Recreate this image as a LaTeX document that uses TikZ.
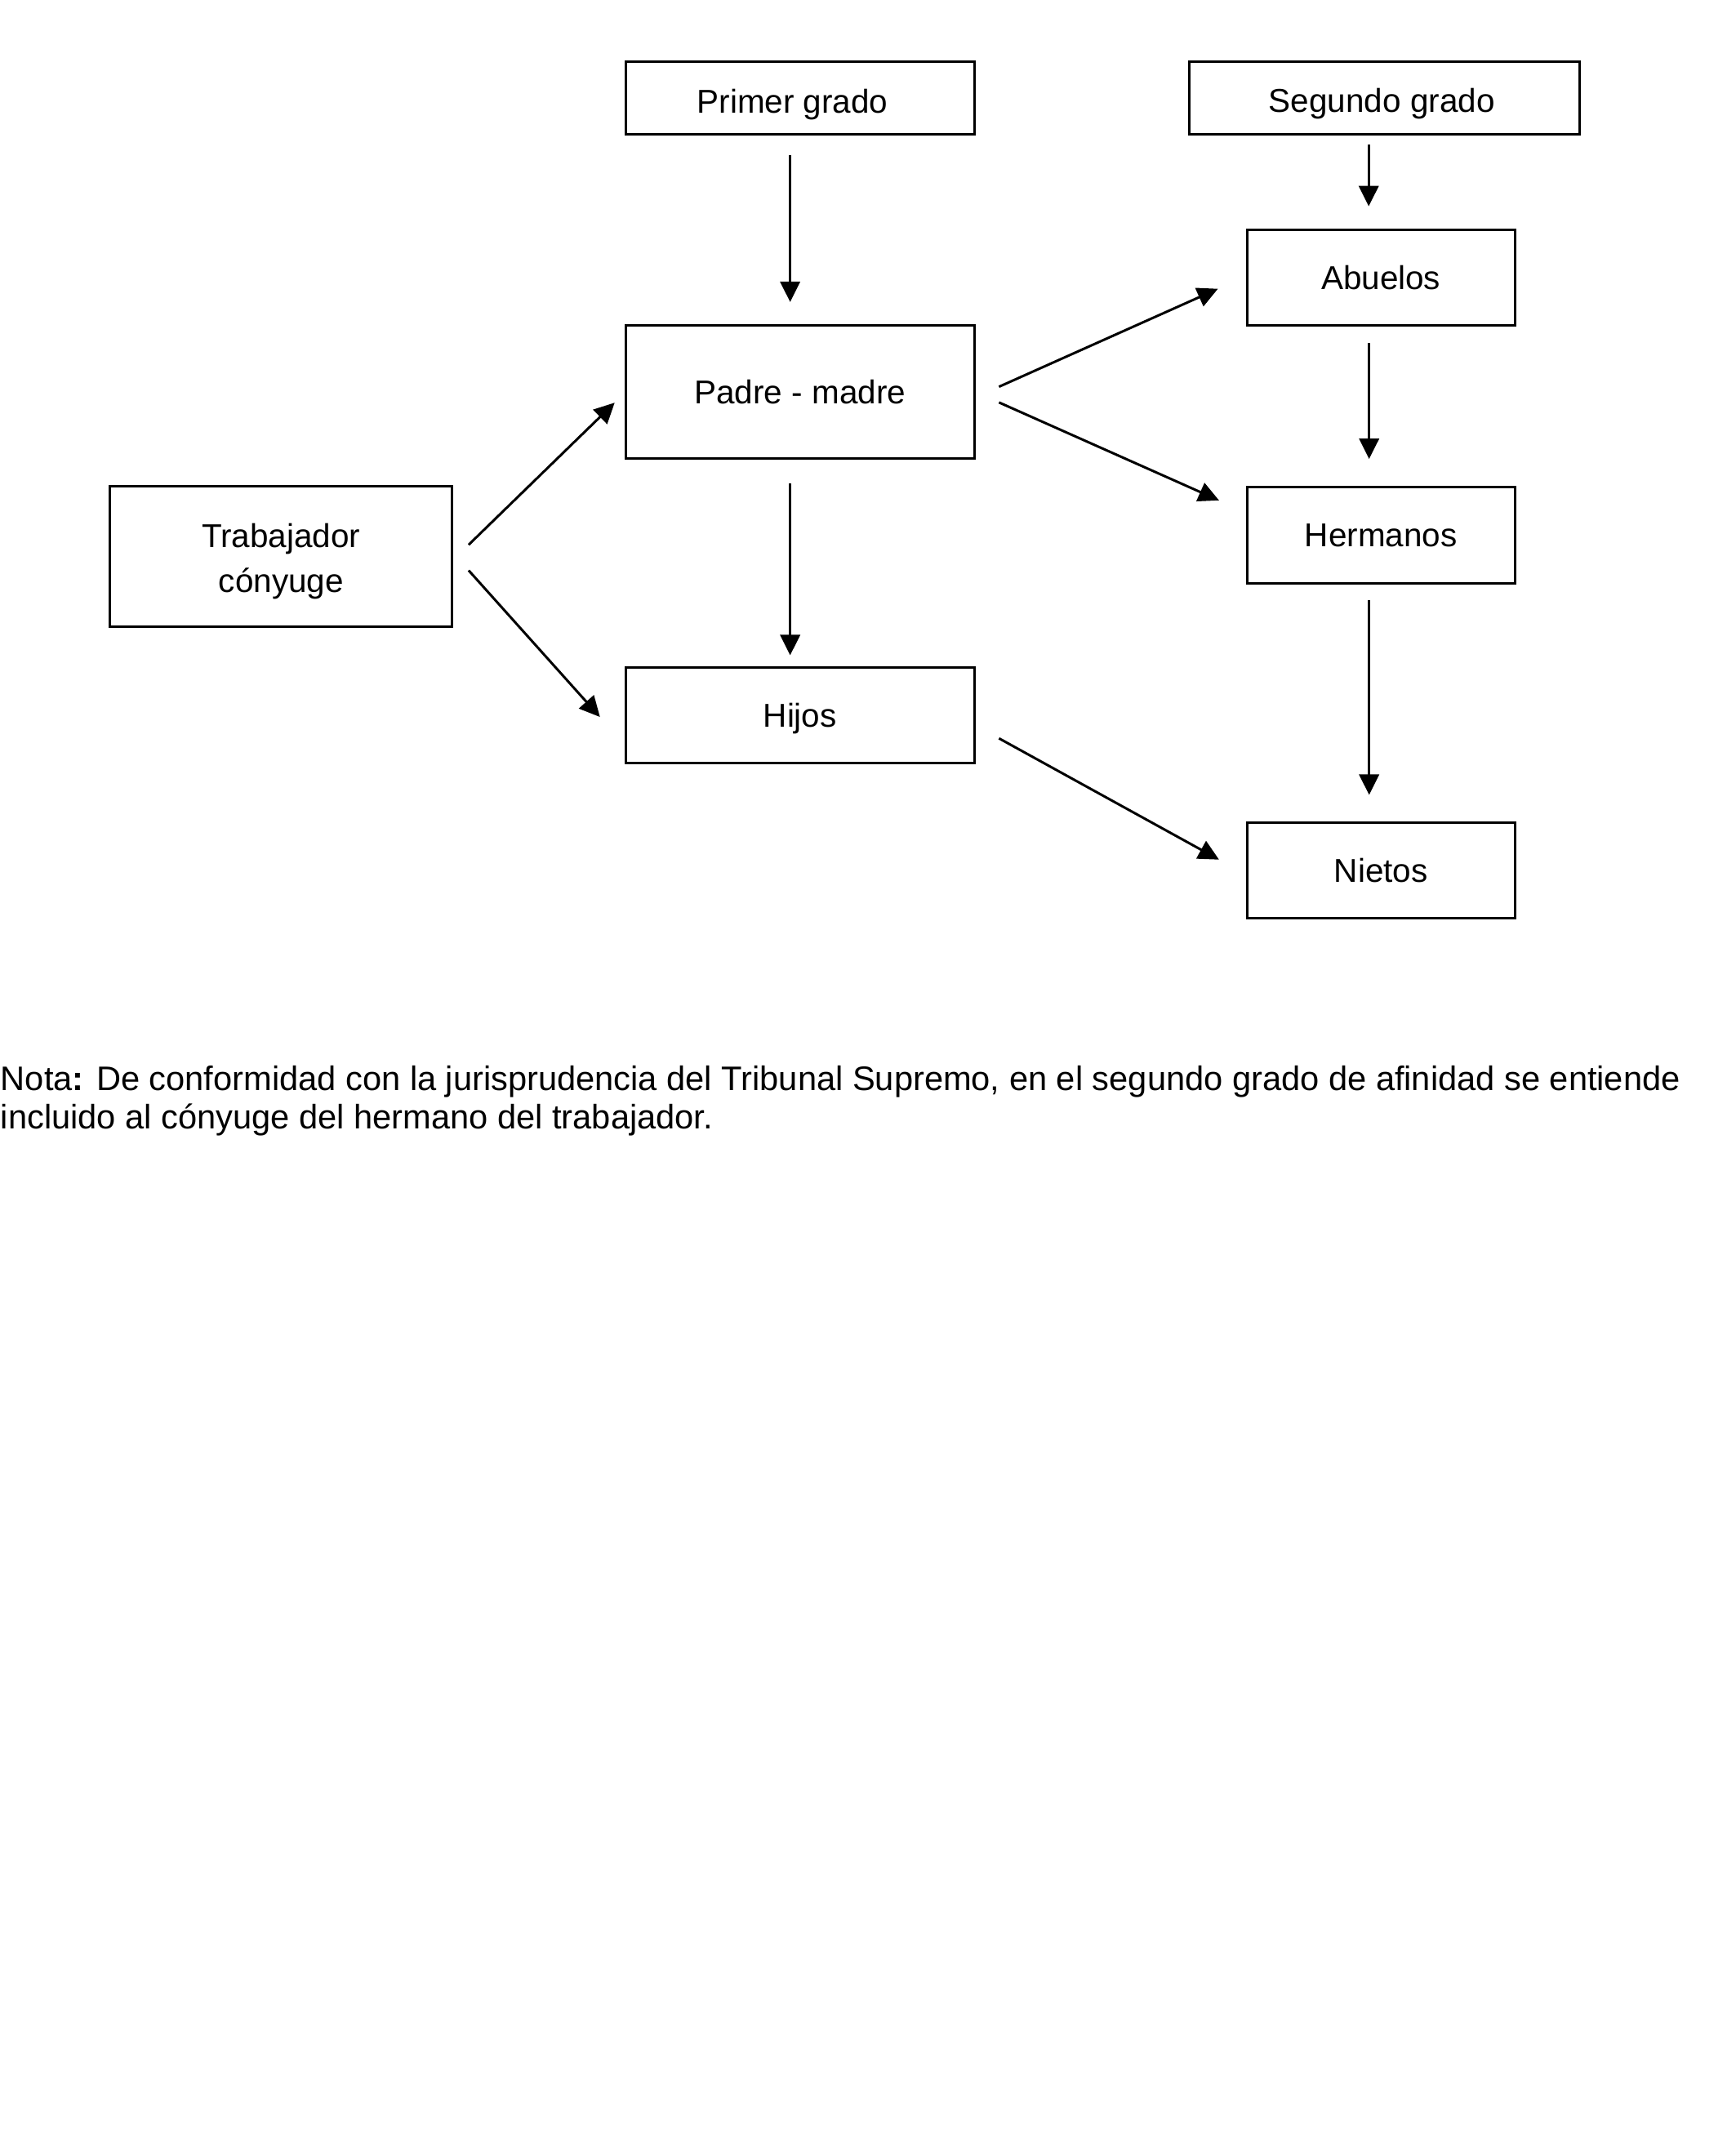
\documentclass[tikz,border=0pt]{standalone}
\usepackage{fontspec}
\setmainfont{Liberation Sans}
\usetikzlibrary{arrows.meta}
\begin{document}
\begin{tikzpicture}[x=0.4pt,y=-0.4pt,
  box/.style={draw=black,line width=0.72pt,inner sep=0pt,font=\fontsize{9.7pt}{11.6pt}\selectfont,text depth=0pt,text height=7.0pt},
  wide/.style={minimum width=102.36pt},
  small/.style={minimum width=78.68pt,minimum height=28.16pt},
  conn/.style={line width=0.72pt,-{Triangle[length=6pt,width=5.8pt]}},
  notetext/.style={inner sep=0pt,anchor=base west,font=\fontsize{9.98pt}{11.3pt}\selectfont}]
\useasboundingbox (0,0) rectangle (1274,1568);
% boxes
\node[box,wide,minimum height=21.36pt] (pg) at (587.25,71.9) {\raisebox{-1pt}{Primer grado}\kern4.4pt};
\node[box,minimum width=114.72pt,minimum height=21.36pt] (sg) at (1016.2,71.9) {\raisebox{-0.8pt}{Segundo grado}\kern1.5pt};
\node[box,small] (ab) at (1013.65,203.9) {Abuelos};
\node[box,wide,minimum height=39.04pt] (pm) at (587.25,287.7) {Padre - madre};
\node[draw=black,line width=0.72pt,inner sep=0pt,align=center,font=\fontsize{9.7pt}{13.2pt}\selectfont,minimum width=100.4pt,minimum height=41.28pt] (tr) at (206.4,408.5) {\rule{0pt}{9.8pt}Trabajador\\cónyuge};
\node[box,small] (he) at (1013.65,392.8) {Hermanos};
\node[box,wide,minimum height=28.08pt] (hi) at (587.25,525) {Hijos};
\node[box,small] (ni) at (1013.65,638.9) {Nietos};
% connector end points
\coordinate (pg-s) at (580,113.9);   \coordinate (pm-n) at (580,221.7);
\coordinate (sg-s) at (1004.7,106);  \coordinate (ab-n) at (1004.7,151.4);
\coordinate (ab-s) at (1005,251.8);  \coordinate (he-n) at (1005,336.9);
\coordinate (he-s) at (1005,440.4);  \coordinate (ni-n) at (1005,583.5);
\coordinate (pm-s) at (580,355);     \coordinate (hi-n) at (580,481);
\coordinate (tr-e1) at (344,399.9);  \coordinate (pm-w) at (451.2,295.6);
\coordinate (tr-e2) at (344,418.7);  \coordinate (hi-w) at (440.4,526.3);
\coordinate (pm-e1) at (733.3,283.9); \coordinate (ab-w) at (894,212);
\coordinate (pm-e2) at (733.3,295.4); \coordinate (he-w) at (894.8,367.3);
\coordinate (hi-e) at (733.3,542);   \coordinate (ni-w) at (894.8,631);
% connectors
\draw[conn] (pg-s) -- (pm-n);
\draw[conn] (sg-s) -- (ab-n);
\draw[conn] (ab-s) -- (he-n);
\draw[conn] (he-s) -- (ni-n);
\draw[conn] (pm-s) -- (hi-n);
\draw[conn] (tr-e1) -- (pm-w);
\draw[conn] (tr-e2) -- (hi-w);
\draw[conn] (pm-e1) -- (ab-w);
\draw[conn] (pm-e2) -- (he-w);
\draw[conn] (hi-e) -- (ni-w);
% note
\node[notetext] (note1) at (0,800.6) {Nota\textbf{:} De conformidad con la jurisprudencia del Tribunal Supremo, en el segundo grado de afinidad se entiende};
\node[notetext] (note2) at (0,828.9) {incluido al cónyuge del hermano del trabajador.};
\end{tikzpicture}
\end{document}
